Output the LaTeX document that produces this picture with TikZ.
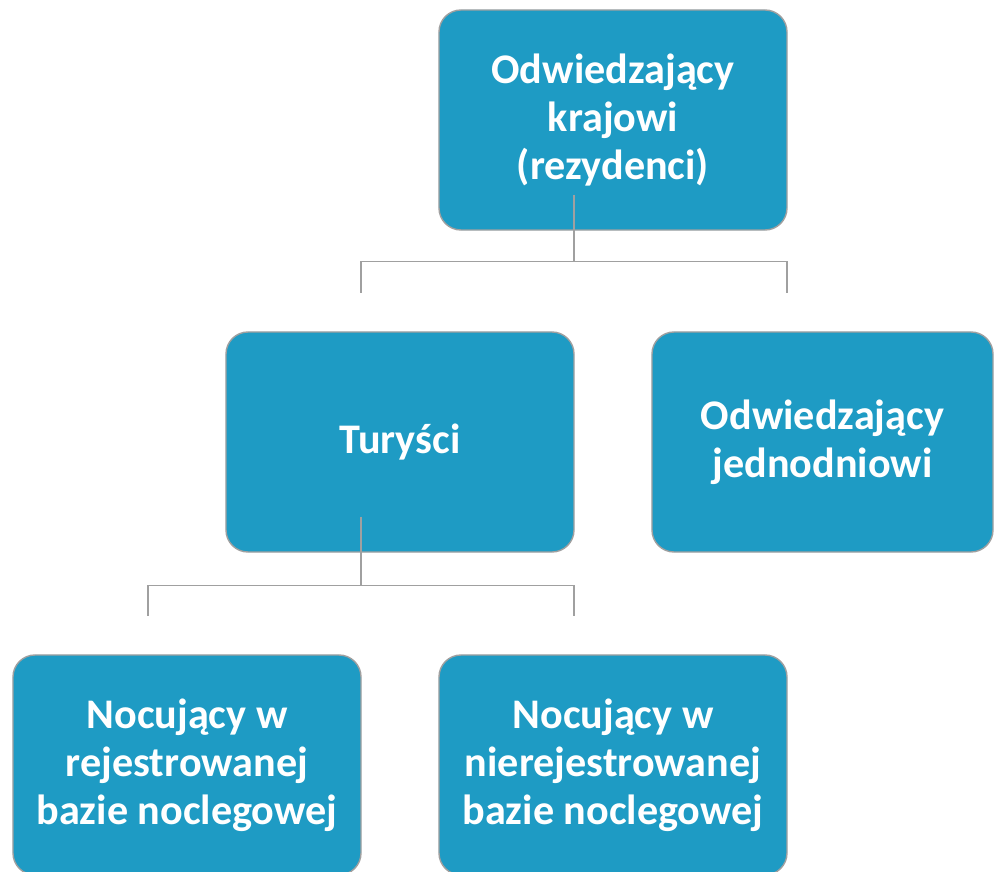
\documentclass[tikz,border=0pt]{standalone}
\usepackage{fontspec}
\setmainfont{Carlito}
\definecolor{boxblue}{RGB}{30,155,196}
\definecolor{linegray}{RGB}{160,160,160}
\begin{document}
\begin{tikzpicture}[x=0.03cm, y=-0.03cm, line width=1.2pt,
	main/.style = {draw=linegray, fill=boxblue, rounded corners=0.66cm, text=white, align=center,
		minimum width=10.44cm, minimum height=6.6cm, font=\bfseries\fontsize{36}{41}\selectfont},
	link/.style = {draw=linegray, line width=1.1pt}]

		\clip (0,0) rectangle (994,872);

		\node[main] (top) at (613,120) {Odwiedzający\\krajowi\\(rezydenci)};
		\node[main] (tur) at (400,442) {Turyści};
		\node[main, minimum width=10.23cm] (day) at (822.5,442) {Odwiedzający\\jednodniowi};
		\node[main] (reg) at (187,765) {Nocujący w\\rejestrowanej\\bazie noclegowej};
		\node[main] (nreg) at (613,765) {Nocujący w\\nierejestrowanej\\bazie noclegowej};

		\draw[link] ([shift={(-39,-36)}]top.south) -- ++(0,67) -| ([shift={(-39,-38)}]tur.north);
		\draw[link] ([shift={(-39,31)}]top.south) -| ([shift={(-35.5,-38)}]day.north);
		\draw[link] ([shift={(-39,-36)}]tur.south) -- ++(0,69) -| ([shift={(-39,-38)}]reg.north);
		\draw[link] ([shift={(-39,33)}]tur.south) -| ([shift={(-39,-38)}]nreg.north);
	\end{tikzpicture}
\end{document}
